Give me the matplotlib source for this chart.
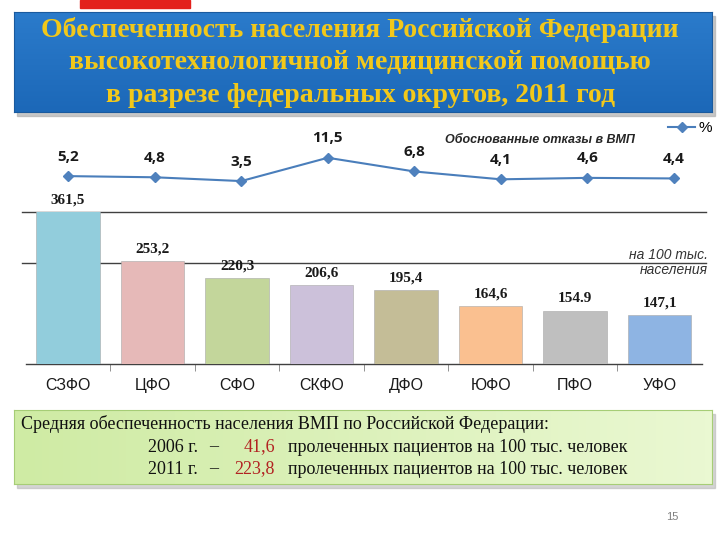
import numpy as np
import matplotlib
matplotlib.use('Agg')
import matplotlib.pyplot as plt
from matplotlib.patches import Rectangle

# data
districts = ['СЗФО', 'ЦФО', 'СФО', 'СКФО', 'ДФО', 'ЮФО', 'ПФО', 'УФО']
provision = [361.5, 253.2, 220.3, 206.6, 195.4, 164.6, 154.9, 147.1]
provision_labels = ['361,5', '253,2', '220,3', '206,6', '195,4', '164,6', '154.9', '147,1']
refusals = [5.2, 4.8, 3.5, 11.5, 6.8, 4.1, 4.6, 4.4]
bar_colors = ['#92CDDC', '#E6B9B8', '#C3D69B', '#CCC1DA',
              '#C4BD97', '#FAC090', '#BFBFBF', '#8EB4E3']

W, H = 720, 540


def fx(x):
    return x / W


def fy(y):
    return 1 - y / H


def rect(x0, y0, x1, y1):
    # pixel box (top-left origin) -> axes rect
    return [fx(x0), fy(y1), (x1 - x0) / W, (y1 - y0) / H]


fig = plt.figure(figsize=(7.2, 5.4), dpi=100)
fig.patch.set_facecolor('white')

serif = 'Liberation Serif'
sans = 'Liberation Sans'

# red tab on top
fig.patches.append(Rectangle((fx(80), fy(8)), 110 / W, 8 / H, transform=fig.transFigure,
                             color='#E3211C', zorder=-1))

# title box with shadow
fig.patches.append(Rectangle((fx(17), fy(116)), 698 / W, 100 / H, transform=fig.transFigure,
                             color='#b0b0b0', alpha=0.7, zorder=-1))
ax_t = fig.add_axes(rect(14, 12, 712, 112))
grad = np.linspace(0, 1, 100).reshape(-1, 1)
ax_t.imshow(grad, aspect='auto', extent=[0, 1, 0, 1],
            cmap=matplotlib.colors.LinearSegmentedColormap.from_list('b', ['#2B7BCB', '#1C68B8']))
ax_t.set_xticks([])
ax_t.set_yticks([])
for s in ax_t.spines.values():
    s.set_color('#1A5A9E')
title_lines = ['Обеспеченность населения Российской Федерации',
               'высокотехнологичной медицинской помощью',
               'в разрезе федеральных округов, 2011 год']
for i, line in enumerate(title_lines):
    fig.text(0.5, fy(30 + 33 * i), line, ha='center', va='center', color='#F2C81A',
             fontsize=20, fontweight='bold', family=serif, zorder=5)

# bar chart
x = np.arange(len(districts))
ax = fig.add_axes(rect(25.7, 212, 702, 364))
bars = ax.bar(x, provision, width=0.75, color=bar_colors, edgecolor='#a8a8a8',
              linewidth=0.4, zorder=3)
ax.set_xlim(-0.5, len(districts) - 0.5)
ax.set_ylim(50, 350)
ax.set_yticks([])
for y in [250, 350]:
    ax.axhline(y, color='#404040', lw=1.0, zorder=1, xmin=-0.005, xmax=1.006, clip_on=False)
for s in ['top', 'right', 'left']:
    ax.spines[s].set_visible(False)
ax.spines['bottom'].set_color('#404040')
ax.spines['bottom'].set_linewidth(1.0)
ax.set_xticks(x)
ax.set_xticklabels([])
ax.tick_params(axis='x', which='major', length=0)
for xi, name in zip(x, districts):
    ax.text(xi, -0.168, name, transform=ax.get_xaxis_transform(), ha='center',
            va='baseline', family=sans, fontsize=11.5, color='#1a1a1a')
ax.set_xticks(np.arange(0.5, len(districts) - 0.5, 1), minor=True)
ax.tick_params(axis='x', which='minor', length=5, color='#808080', direction='out')
top = ax.get_ylim()[1]
for xi, v, lab in zip(x, provision, provision_labels):
    ax.annotate(lab, (xi, min(v, top)), xytext=(0, 4), textcoords='offset points',
                ha='center', va='bottom', fontsize=11, fontweight='bold', family=serif,
                color='#1a1a1a', annotation_clip=False)
fig.text(fx(708), fy(255), 'на 100 тыс.', ha='right', va='center', fontsize=10,
         style='italic', family=sans, color='#333333')
fig.text(fx(708), fy(270), 'населения', ha='right', va='center', fontsize=10,
         style='italic', family=sans, color='#333333')

# line chart (refusals, %)
ax_l = fig.add_axes(rect(25, 140, 717, 200))
ax_l.plot(x, refusals, color='#4A7EBB', lw=1.5, marker='D', markersize=5,
          markerfacecolor='#4F81BD', markeredgecolor='#4F81BD', label='%')
ax_l.set_xlim(-0.5, len(districts) - 0.5)
ax_l.set_ylim(-3, 17.6)
ax_l.axis('off')
for xi, v in zip(x, refusals):
    ax_l.annotate(f'{v:.1f}'.replace('.', ','), (xi, v), xytext=(0, 9),
                  textcoords='offset points', ha='center', va='bottom', fontsize=11,
                  fontweight='bold', family='Open Sans', color='#1a1a1a')
fig.legend(loc='center right', bbox_to_anchor=(fx(718), fy(128)), frameon=False,
           handlelength=1.8, handletextpad=0.2, prop={'family': sans, 'size': 11},
           borderaxespad=0)
fig.text(fx(540), fy(140), 'Обоснованные отказы в ВМП', ha='center', va='center',
         fontsize=9, style='italic', fontweight='bold', family=sans, color='#262626')

# bottom summary box with shadow
fig.patches.append(Rectangle((fx(17), fy(488)), 698 / W, 74 / H, transform=fig.transFigure,
                             color='#b8b8b8', alpha=0.6, zorder=-1))
ax_b = fig.add_axes(rect(14, 410, 712, 484))
grad_h = np.linspace(0, 1, 100).reshape(1, -1)
ax_b.imshow(grad_h, aspect='auto', extent=[0, 1, 0, 1],
            cmap=matplotlib.colors.LinearSegmentedColormap.from_list('g', ['#CFEBA4', '#EAF8D2']))
ax_b.set_xticks([])
ax_b.set_yticks([])
for s in ax_b.spines.values():
    s.set_color('#A6CD76')

fs = 13
fig.text(fx(21), fy(424), 'Средняя обеспеченность населения ВМП по Российской Федерации:',
         ha='left', va='center', fontsize=fs, family=serif, color='#111111', zorder=5)
rows = [('2006 г.', '41,6', 447), ('2011 г.', '223,8', 469)]
for yr, val, yy in rows:
    fig.text(fx(148), fy(yy), yr, ha='left', va='center', fontsize=fs, family=serif,
             color='#111111', zorder=5)
    fig.text(fx(214), fy(yy), '–', ha='center', va='center', fontsize=fs, family=serif,
             color='#111111', zorder=5)
    fig.text(fx(275), fy(yy), val, ha='right', va='center', fontsize=fs, family=serif,
             color='#B22222', zorder=5)
    fig.text(fx(288), fy(yy), 'пролеченных пациентов на 100 тыс. человек', ha='left',
             va='center', fontsize=fs, family=serif, color='#111111', zorder=5)

fig.text(fx(672), fy(517), '15', ha='center', va='center', fontsize=8,
         family=sans, color='#808080')

fig.savefig('out.png', dpi=100)
